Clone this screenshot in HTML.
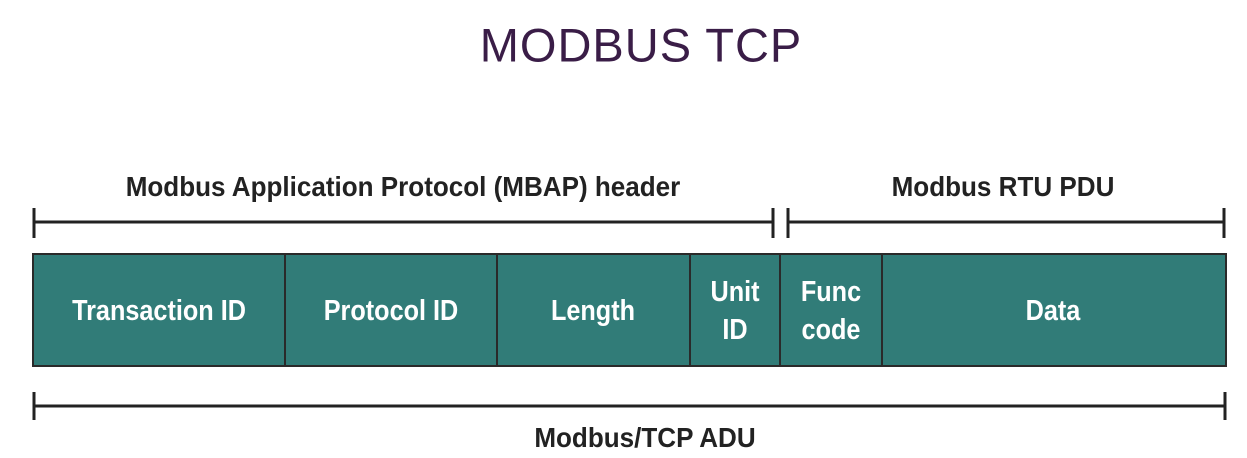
<!DOCTYPE html>
<html><head><style>
body{margin:0;width:1247px;height:458px;background:#fff;position:relative;overflow:hidden;font-family:"Liberation Sans",sans-serif}
.t{position:absolute;white-space:nowrap;transform:translate(-50%,-50%) scaleX(0.93)}
.lab{font-weight:bold;font-size:28px;color:#222}
.cell{font-weight:bold;font-size:29px;color:#fff;text-align:center;line-height:38px;transform:translate(-50%,-50%) scaleX(0.87)}
</style></head><body>
<div class="t" style="left:641px;top:45px;font-size:47px;color:#3a1d47;letter-spacing:1px;transform:translate(-50%,-50%)">MODBUS TCP</div>
<div class="t lab" style="left:403px;top:187px">Modbus Application Protocol (MBAP) header</div>
<div class="t lab" style="left:1003px;top:187px">Modbus RTU PDU</div>
<div class="t lab" style="left:645px;top:438px">Modbus/TCP ADU</div>
<svg width="1247" height="458" style="position:absolute;left:0;top:0">
<g stroke="#222" stroke-width="3" fill="none">
<line x1="34" y1="222" x2="773" y2="222"/><line x1="34" y1="208" x2="34" y2="238"/><line x1="773" y1="208" x2="773" y2="238"/>
<line x1="788" y1="222" x2="1224" y2="222"/><line x1="788" y1="208" x2="788" y2="238"/><line x1="1224" y1="208" x2="1224" y2="238"/>
<line x1="34" y1="406" x2="1225" y2="406"/><line x1="34" y1="392" x2="34" y2="420"/><line x1="1225" y1="392" x2="1225" y2="420"/>
</g>
<rect x="33" y="254" width="1193" height="112" fill="#317c78" stroke="#2a2a2a" stroke-width="2"/>
<g stroke="#2a2a2a" stroke-width="2">
<line x1="285" y1="254" x2="285" y2="366"/><line x1="497" y1="254" x2="497" y2="366"/><line x1="690" y1="254" x2="690" y2="366"/><line x1="780" y1="254" x2="780" y2="366"/><line x1="882" y1="254" x2="882" y2="366"/>
</g>
</svg>
<div class="t cell" style="left:159px;top:311px">Transaction ID</div>
<div class="t cell" style="left:391px;top:311px">Protocol ID</div>
<div class="t cell" style="left:593px;top:311px">Length</div>
<div class="t cell" style="left:735px;top:311px">Unit<br>ID</div>
<div class="t cell" style="left:831px;top:311px">Func<br>code</div>
<div class="t cell" style="left:1053px;top:311px">Data</div>
</body></html>
